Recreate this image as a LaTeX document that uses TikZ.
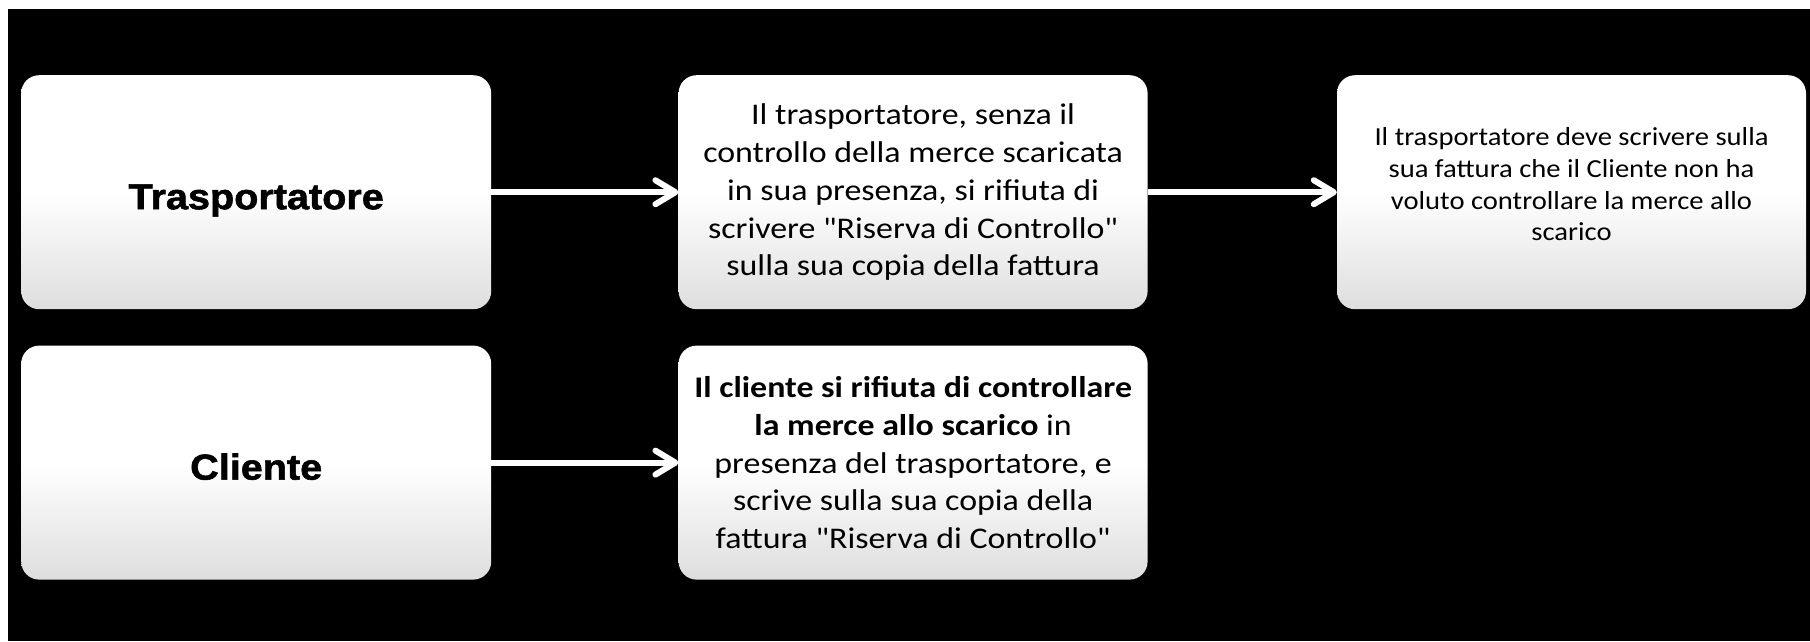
\documentclass[tikz,border=0pt]{standalone}
\usepackage{fontspec}
\setmainfont{Carlito}
\newfontfamily\headfont[FakeStretch=1.10, BoldFeatures={FakeBold=1.5}]{Liberation Sans}
\newfontfamily\bodyfont[FakeStretch=1.13]{Carlito}
\newfontfamily\notefont[FakeStretch=1.10]{Carlito}
\usepackage{xcolor}
\definecolor{boxgray}{HTML}{DEDEDE}
\usetikzlibrary{arrows.meta, positioning}
\tikzset{
  card/.style    ={rectangle, rounded corners=18pt, top color=white, bottom color=boxgray, middle color=white,
                   minimum width=470pt, minimum height=234pt, inner sep=0pt, align=center, text=black},
  rolecard/.style={card, text height=38pt, text depth=4pt, font=\headfont\bfseries\fontsize{36}{43}\selectfont},
  stepcard/.style={card, minimum width=469pt, font=\bodyfont\fontsize{30}{37.8}\selectfont},
  notecard/.style={card, minimum width=469pt, font=\notefont\fontsize{26}{31.8}\selectfont},
  warr/.style    ={-{Straight Barb[length=20pt, width=24pt, round]}, line width=6pt, draw=white},
}

\begin{document}
\begin{tikzpicture}[x=1pt, y=-1pt]
  % sfondo
  \fill[white] (0,0) rectangle (1810,641);
  \fill[black] (8,9) rectangle (1810,641);
  \node[rolecard, anchor=north west] (trasp) at (21,75) {Trasportatore};
  \node[stepcard, right=187pt of trasp] (rifiuto) {Il trasportatore, senza il\\controllo della merce scaricata\\in sua presenza, si rifiuta di\\scrivere "Riserva di Controllo"\\sulla sua copia della fattura};
  \node[notecard, right=189pt of rifiuto] (fattura) {Il trasportatore deve scrivere sulla\\sua fattura che il Cliente non ha\\voluto controllare la merce allo\\scarico\\[-15.8pt]\mbox{}};
  \node[rolecard, below=36pt of trasp] (cliente) {Cliente};
  \node[stepcard, below=36pt of rifiuto] (riserva) {\textbf{Il cliente si rifiuta di controllare}\\\textbf{la merce allo scarico} in\\presenza del trasportatore, e\\scrive sulla sua copia della\\fattura "Riserva di Controllo"};
  \draw[warr] (trasp) -- (rifiuto);
  \draw[warr] (rifiuto) -- (fattura);
  \draw[warr] (cliente) -- (riserva);
\end{tikzpicture}
\end{document}
